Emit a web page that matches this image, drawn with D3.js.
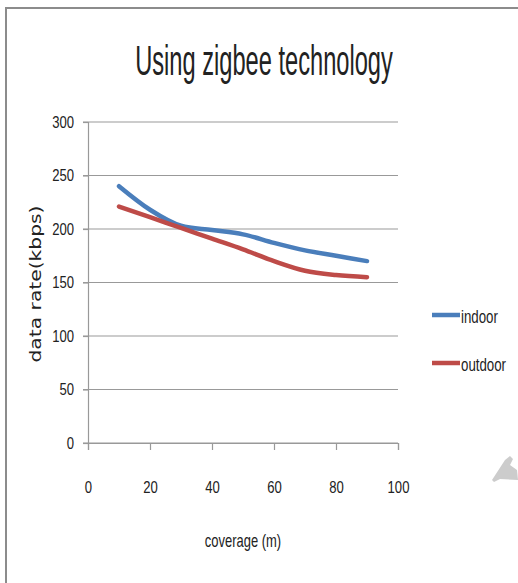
<!DOCTYPE html>
<html>
<head>
<meta charset="utf-8">
<script src="https://cdn.jsdelivr.net/npm/d3@7"></script>
<style>
  body { margin: 0; background: #fff; }
  text { font-family: "Liberation Sans", "Open Sans", sans-serif; fill: #222; }
</style>
</head>
<body>
<div id="chart"></div>
<script>
const width = 518;
const height = 583;

// data
const coverage = [10, 20, 30, 40, 50, 60, 70, 80, 90];
const indoor = [240, 218, 203, 199, 195, 187, 180, 175, 170];
const outdoor = [221, 211, 201, 191, 181, 170, 161, 157, 155];
const seriesNames = ["indoor", "outdoor"];
const colors = ["#4a7ebb", "#be4b48"];
const xTicks = [0, 20, 40, 60, 80, 100];
const yTicks = [0, 50, 100, 150, 200, 250, 300];

// the original uses a condensed face; squeeze regular text horizontally
function narrow(sel, k) {
    sel.each(function () {
        const t = d3.select(this);
        const px = +t.attr("x") || 0;
        const py = +t.attr("y") || 0;
        t.attr("x", px / k).attr("y", py).attr("transform", `scale(${k},1)`);
    });
}

const svg = d3.select("#chart").append("svg")
    .attr("width", width)
    .attr("height", height);

// frame
svg.append("path")
    .attr("d", `M6,${height} V8 H${width}`)
    .attr("fill", "none")
    .attr("stroke", "#8c8c8c")
    .attr("stroke-width", 2);

const x = d3.scaleLinear().domain([0, 100]).range([88, 398]);
const y = d3.scaleLinear().domain([0, 300]).range([443, 122]);

// gridlines
svg.append("g")
    .selectAll("line")
    .data(yTicks)
    .join("line")
    .attr("x1", x(0) - 5)
    .attr("x2", x(100))
    .attr("y1", d => y(d))
    .attr("y2", d => y(d))
    .attr("stroke", "#999")
    .attr("stroke-width", 1.2);

// y axis
const yAxis = svg.append("g")
    .attr("transform", `translate(${x(0)},0)`)
    .call(d3.axisLeft(y).tickValues(yTicks).tickSize(5));

// x axis
const xAxis = svg.append("g")
    .attr("transform", `translate(0,${y(0)})`)
    .call(d3.axisBottom(x).tickValues(xTicks).tickSize(7));

svg.selectAll(".domain, .tick line").attr("stroke", "#999").attr("stroke-width", 1.2);
svg.selectAll(".tick text")
    .attr("fill", "#222")
    .attr("font-size", 17)
    .style("font-family", "Liberation Sans, sans-serif");
yAxis.selectAll(".tick text").attr("x", -14).call(narrow, 0.77);
xAxis.selectAll(".tick text").attr("y", 38).call(narrow, 0.77);

// lines
const line = d3.line()
    .x((d, i) => x(coverage[i]))
    .y(d => y(d))
    .curve(d3.curveMonotoneX);

svg.selectAll(".series")
    .data([indoor, outdoor])
    .join("path")
    .attr("class", "series")
    .attr("d", line)
    .attr("fill", "none")
    .attr("stroke", (d, i) => colors[i])
    .attr("stroke-width", 4.5)
    .attr("stroke-linecap", "round");

// title
svg.append("text")
    .attr("x", 264)
    .attr("y", 75)
    .attr("text-anchor", "middle")
    .attr("font-size", 43)
    .text("Using zigbee technology")
    .call(narrow, 0.55);

// axis titles
svg.append("text")
    .attr("transform", "translate(41,284) rotate(-90)")
    .attr("text-anchor", "middle")
    .attr("font-size", 15)
    .attr("textLength", 157)
    .attr("lengthAdjust", "spacingAndGlyphs")
    .style("font-family", "DejaVu Sans, sans-serif")
    .text("data rate(kbps)");

svg.append("text")
    .attr("x", 243)
    .attr("y", 547)
    .attr("text-anchor", "middle")
    .attr("font-size", 18)
    .text("coverage (m)")
    .call(narrow, 0.72);

// legend
const legend = svg.append("g")
    .selectAll("g")
    .data(seriesNames)
    .join("g")
    .attr("transform", (d, i) => `translate(432,${315 + i * 48})`);
legend.append("line")
    .attr("x1", 0).attr("x2", 28)
    .attr("stroke", (d, i) => colors[i])
    .attr("stroke-width", 4.5);
legend.append("text")
    .attr("x", 29)
    .attr("y", 8)
    .attr("font-size", 19)
    .text(d => d)
    .call(narrow, 0.7);

// faint mark in the lower right corner of the scan
svg.append("path")
    .attr("d", "M492,480 L505,460 L510,456 L513,459 L510,465 L517,470 L518,480 L500,479 L494,482 Z")
    .attr("fill", "#cccccc");
</script>
</body>
</html>
